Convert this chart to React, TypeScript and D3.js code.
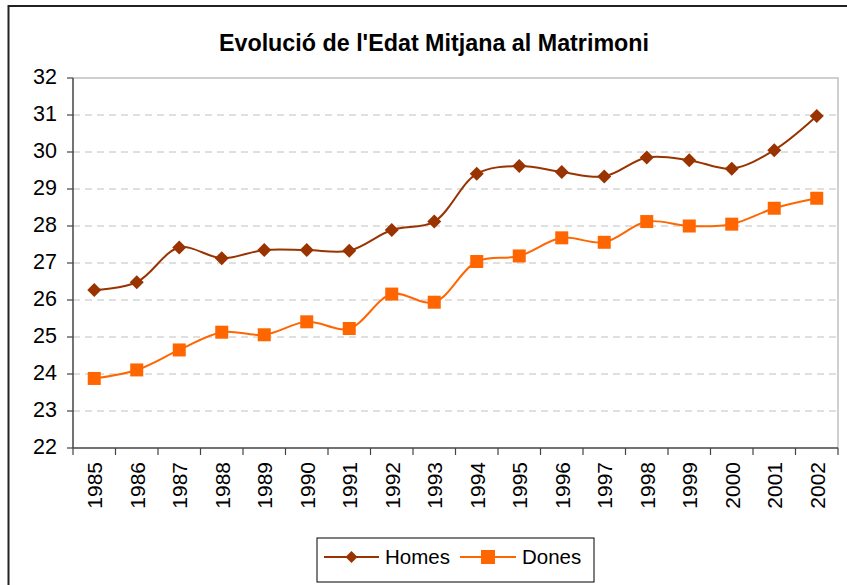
import React from "react";
import * as d3 from "d3";

const years = ["1985","1986","1987","1988","1989","1990","1991","1992","1993","1994","1995","1996","1997","1998","1999","2000","2001","2002"];
const homes = [26.27,26.48,27.42,27.13,27.35,27.35,27.33,27.89,28.12,29.41,29.62,29.46,29.34,29.85,29.78,29.55,30.05,30.97];
const dones = [23.88,24.11,24.65,25.13,25.06,25.41,25.23,26.16,25.94,27.04,27.19,27.68,27.56,28.12,28.0,28.05,28.48,28.75];
const yTicks = [22,23,24,25,26,27,28,29,30,31,32];
const title = "Evolució de l'Edat Mitjana al Matrimoni";
const seriesNames = ["Homes", "Dones"];

const W = 847, H = 585;
const L = 73, R = 838, T = 78, B = 448;
const FONT = "'Liberation Sans', Arial, sans-serif";
const cHomes = "#993300", cDones = "#FF6600";

export default function App() {
  const x = d3.scaleBand<string>().domain(years).range([L, R]);
  const y = d3.scaleLinear().domain([22, 32]).range([B, T]);
  const cx = (yr: string) => (x(yr) as number) + x.bandwidth() / 2;
  const line = d3.line<number>()
    .x((_, i) => cx(years[i]))
    .y((v) => y(v))
    .curve(d3.curveCatmullRom.alpha(0.5));

  const diamond = (px: number, py: number, r: number) =>
    `M${px},${py - r}L${px + r},${py}L${px},${py + r}L${px - r},${py}Z`;

  const boundaries = [...years.map((yr) => x(yr) as number), R];

  return (
    <svg width={W} height={H} style={{ position: "absolute", left: 0, top: 0, background: "#fff" }} fontFamily={FONT}>
      <rect x={0} y={0} width={W} height={H} fill="#fff" />
      {/* outer chart border */}
      <path d={`M8.5,${H + 5}V6H${W + 5}`} fill="none" stroke="#222" strokeWidth={2} />
      <text x={434} y={51} textAnchor="middle" fontSize={23.3} fontWeight="bold" fill="#000">{title}</text>

      {/* gridlines */}
      {yTicks.filter((t) => t > 22 && t < 32).map((t) => (
        <line key={t} x1={L} x2={R} y1={y(t)} y2={y(t)} stroke="#c0c0c0" strokeWidth={1} strokeDasharray="7,5" />
      ))}
      {/* plot border top/right */}
      <path d={`M${L},${T}H${R}V${B}`} fill="none" stroke="#c0c0c0" strokeWidth={1.5} />

      {/* axes */}
      <line x1={L} x2={L} y1={T} y2={B} stroke="#444" strokeWidth={1.5} />
      <line x1={L} x2={R} y1={B} y2={B} stroke="#444" strokeWidth={1.5} />
      {yTicks.map((t) => (
        <g key={t}>
          <line x1={L - 6} x2={L} y1={y(t)} y2={y(t)} stroke="#444" strokeWidth={1.2} />
          <text x={57} y={y(t) + 5.5} textAnchor="end" fontSize={21.5} fill="#000">{t}</text>
        </g>
      ))}
      {boundaries.map((bx, i) => (
        <line key={i} x1={bx} x2={bx} y1={B} y2={B + 7} stroke="#444" strokeWidth={1.2} />
      ))}
      {years.map((yr) => (
        <text key={yr} transform={`translate(${cx(yr) + 8},462) rotate(-90)`} textAnchor="end" fontSize={21} fill="#000">{yr}</text>
      ))}

      {/* series */}
      <path d={line(homes) || ""} fill="none" stroke={cHomes} strokeWidth={2} />
      <path d={line(dones) || ""} fill="none" stroke={cDones} strokeWidth={2} />
      {homes.map((v, i) => (
        <path key={"h" + i} d={diamond(cx(years[i]), y(v), 7)} fill={cHomes} />
      ))}
      {dones.map((v, i) => (
        <rect key={"d" + i} x={cx(years[i]) - 6.5} y={y(v) - 6.5} width={13} height={13} fill={cDones} />
      ))}

      {/* legend */}
      <rect x={317} y={538} width={277} height={44} fill="#fff" stroke="#000" strokeWidth={1} />
      <line x1={324} x2={379} y1={557} y2={557} stroke={cHomes} strokeWidth={2} />
      <path d={diamond(351.5, 557, 6)} fill={cHomes} />
      <text x={385} y={563.5} fontSize={20.5} fill="#000">{seriesNames[0]}</text>
      <line x1={460} x2={516} y1={557} y2={557} stroke={cDones} strokeWidth={2} />
      <rect x={481} y={550} width={14} height={14} fill={cDones} />
      <text x={522} y={563.5} fontSize={20.5} fill="#000">{seriesNames[1]}</text>
    </svg>
  );
}
